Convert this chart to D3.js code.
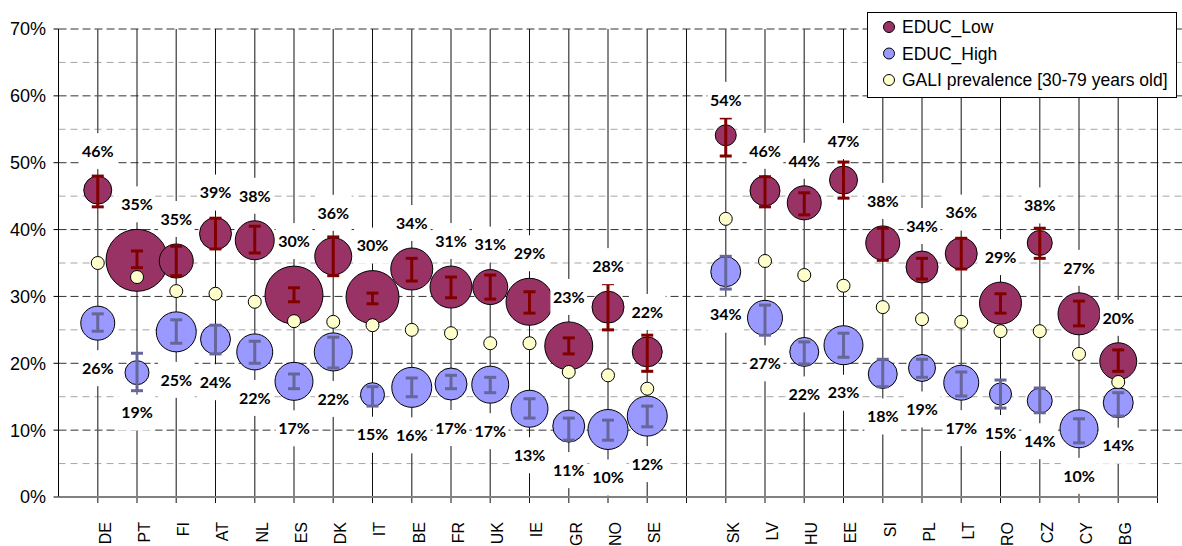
<!DOCTYPE html>
<html><head><meta charset="utf-8">
<script src="https://cdn.jsdelivr.net/npm/d3@7"></script>
<style>body{margin:0;background:#fff}svg{display:block}</style>
</head><body>
<svg id="c" width="1182" height="546"></svg>
<script>
// Category slots (blank slots are gaps in the axis)
const categories = ["DE","PT","FI","AT","NL","ES","DK","IT","BE","FR","UK","IE","GR","NO","SE","","SK","LV","HU","EE","SI","PL","LT","RO","CZ","CY","BG",""];
const countries = categories.filter(c => c !== "");

// EDUC_Low (percent), error bar bounds, bubble size (relative area)
const lowValue = [45.9,35.4,35.3,39.4,38.4,30.2,36.0,29.9,34.1,31.4,31.4,29.2,22.6,28.4,21.7,54.1,45.8,44.0,47.4,38.0,34.4,36.4,29.0,38.0,27.4,20.3];
const lowUpper = [48.0,36.8,37.5,41.7,40.5,31.3,38.9,30.5,35.7,32.9,33.2,30.7,23.8,31.9,24.2,56.7,47.9,45.5,50.1,40.2,35.7,38.7,30.4,40.2,29.3,22.0];
const lowLower = [43.4,34.3,33.1,37.1,36.5,29.2,33.1,28.9,32.3,29.8,29.6,27.5,21.4,25.0,18.8,51.0,43.4,42.2,44.7,35.4,32.6,34.1,27.5,35.7,25.6,18.8];
const lowSize  = [19.6,96.1,28.9,25.6,38.0,84.1,34.2,70.2,44.1,44.1,30.6,55.2,57.6,25.6,22.5,11.0,22.5,28.9,19.6,28.9,25.6,25.6,44.1,15.6,44.1,34.2];

// EDUC_High
const highValue = [26.0,18.6,24.7,23.6,21.7,17.3,21.7,15.3,16.4,16.9,16.8,13.2,10.6,10.1,12.1,33.7,26.8,21.7,22.7,18.4,19.3,17.1,15.4,14.4,10.2,14.1];
const highUpper = [27.4,21.5,26.5,25.7,23.3,18.4,23.9,16.5,17.8,18.2,17.9,14.7,11.8,11.5,13.6,36.0,28.7,23.2,24.5,20.6,20.6,18.7,17.5,16.3,11.7,15.6];
const highLower = [24.8,15.9,23.0,21.4,20.0,16.2,19.3,13.6,15.0,16.2,15.6,11.8,8.5,8.5,10.5,31.1,24.2,19.9,20.9,16.5,17.9,15.1,13.3,12.6,8.1,12.1];
const highSize  = [28.9,14.4,40.0,22.5,32.4,36.1,36.1,14.4,40.0,25.6,34.2,34.2,25.6,40.0,40.0,22.5,30.6,21.0,38.0,21.0,18.2,30.6,12.1,15.6,36.1,22.5];

// GALI prevalence [30-79 years old]
const galiValue = [35.0,32.9,30.8,30.4,29.2,26.3,26.2,25.7,25.0,24.5,23.0,23.0,18.7,18.2,16.2,41.6,35.3,33.2,31.6,28.4,26.6,26.2,24.8,24.8,21.4,17.2];

const yTicks = [0,10,20,30,40,50,60,70];
const yMinorTicks = [5,15,25,35,45,55,65];
const legendLabels = ["EDUC_Low","EDUC_High","GALI prevalence [30-79 years old]"];
const colors = {low:"#993366", high:"#9999FF", gali:"#FFFFCC", lowErr:"#800000", highErr:"#666699"};

const svg = d3.select("#c");
const x = d3.scaleLinear().domain([0, categories.length]).range([58.5, 1157.5]);
const y = d3.scaleLinear().domain([0, 70]).range([497, 29]);
const r = d3.scaleSqrt().domain([0, 100]).range([0, 31.62]);
const slot = c => categories.indexOf(c) + 1;
const fmt = v => Math.round(v) + "%";

const plotRight = 1182;

// minor gridlines
svg.append("g").selectAll("line").data(yMinorTicks).join("line")
  .attr("x1", x(0)).attr("x2", plotRight).attr("y1", d => y(d)).attr("y2", d => y(d))
  .attr("stroke", "#a6a6a6").attr("stroke-width", 1).attr("stroke-dasharray", "7,5");
// major gridlines
svg.append("g").selectAll("line").data(yTicks.filter(d => d > 0)).join("line")
  .attr("x1", x(0)).attr("x2", plotRight).attr("y1", d => y(d)).attr("y2", d => y(d))
  .attr("stroke", "#333").attr("stroke-width", 1).attr("stroke-dasharray", "8,4");

// vertical category lines
svg.append("g").selectAll("line").data(d3.range(1, categories.length + 1)).join("line")
  .attr("x1", d => x(d)).attr("x2", d => x(d)).attr("y1", y(70)).attr("y2", y(0) + 6)
  .attr("stroke", (d, i) => i % 2 ? "#111" : "#555").attr("stroke-width", (d, i) => i % 2 ? 1 : 1.4);

// y axis
svg.append("line").attr("x1", x(0)).attr("x2", x(0)).attr("y1", y(70)).attr("y2", y(0))
  .attr("stroke", "#000").attr("stroke-width", 1);
svg.append("g").selectAll("line").data(yTicks).join("line")
  .attr("x1", x(0) - 5).attr("x2", x(0)).attr("y1", d => y(d)).attr("y2", d => y(d))
  .attr("stroke", "#000");
svg.append("g").selectAll("text").data(yTicks).join("text")
  .attr("x", 46).attr("y", d => y(d)).attr("dy", "0.36em")
  .attr("text-anchor", "end").attr("font-family", "Liberation Sans, Arial, sans-serif")
  .attr("font-size", 18).attr("fill", "#000").text(d => d + "%");

// x axis
svg.append("line").attr("x1", x(0)).attr("x2", x(categories.length)).attr("y1", y(0)).attr("y2", y(0))
  .attr("stroke", "#808080").attr("stroke-width", 2);
svg.append("g").selectAll("text").data(countries).join("text")
  .attr("transform", d => `translate(${x(slot(d)) + 7},522) rotate(-90)`)
  .attr("dy", "0.36em").attr("text-anchor", "end")
  .attr("font-family", "Liberation Sans, Arial, sans-serif").attr("font-size", 16)
  .attr("fill", "#000").text(d => d);

// error bars helper
function errBars(g, up, lo, color) {
  const eb = g.append("g").attr("stroke", color).attr("stroke-width", 3);
  countries.forEach((c, i) => {
    const cx = x(slot(c));
    eb.append("line").attr("x1", cx).attr("x2", cx).attr("y1", y(up[i])).attr("y2", y(lo[i]));
    eb.append("line").attr("x1", cx - 6).attr("x2", cx + 6).attr("y1", y(up[i])).attr("y2", y(up[i]));
    eb.append("line").attr("x1", cx - 6).attr("x2", cx + 6).attr("y1", y(lo[i])).attr("y2", y(lo[i]));
  });
}

// EDUC_Low bubbles
const gLow = svg.append("g");
gLow.selectAll("circle").data(countries).join("circle")
  .attr("cx", d => x(slot(d))).attr("cy", (d, i) => y(lowValue[i])).attr("r", (d, i) => r(lowSize[i]))
  .attr("fill", colors.low).attr("stroke", "#000").attr("stroke-width", 1);
errBars(gLow, lowUpper, lowLower, colors.lowErr);

// EDUC_High bubbles
const gHigh = svg.append("g");
gHigh.selectAll("circle").data(countries).join("circle")
  .attr("cx", d => x(slot(d))).attr("cy", (d, i) => y(highValue[i])).attr("r", (d, i) => r(highSize[i]))
  .attr("fill", colors.high).attr("stroke", "#000").attr("stroke-width", 1);
errBars(gHigh, highUpper, highLower, colors.highErr);

// GALI points
svg.append("g").selectAll("circle").data(countries).join("circle")
  .attr("cx", d => x(slot(d))).attr("cy", (d, i) => y(galiValue[i])).attr("r", 6.5)
  .attr("fill", colors.gali).attr("stroke", "#000").attr("stroke-width", 1);

// data labels with white boxes
const gLab = svg.append("g");
function label(cx, cy, txt) {
  const g = gLab.append("g");
  const t = g.append("text").attr("x", cx).attr("y", cy).attr("dy", "0.36em")
    .attr("text-anchor", "middle").attr("font-family", "Lato, sans-serif")
    .attr("font-weight", "bold").attr("font-size", 16).attr("fill", "#000").text(txt);
  const w = t.node().getComputedTextLength() + 5;
  g.insert("rect", "text").attr("x", cx - w / 2).attr("y", cy - 18).attr("width", w).attr("height", 36)
    .attr("fill", "#fff");
}
countries.forEach((c, i) => {
  label(x(slot(c)), y(lowValue[i]) - r(lowSize[i]) - 25, fmt(lowValue[i]));
});
countries.forEach((c, i) => {
  label(x(slot(c)), y(highValue[i]) + r(highSize[i]) + 28, fmt(highValue[i]));
});

// legend
const lg = svg.append("g");
lg.append("rect").attr("x", 867.5).attr("y", 12.5).attr("width", 309).attr("height", 85)
  .attr("fill", "#fff").attr("stroke", "#000").attr("stroke-width", 1);
const legFills = [colors.low, colors.high, colors.gali];
legendLabels.forEach((t, i) => {
  const ly = 27 + i * 26.5;
  lg.append("circle").attr("cx", 889).attr("cy", ly).attr("r", 5.5)
    .attr("fill", legFills[i]).attr("stroke", "#000").attr("stroke-width", 1);
  lg.append("text").attr("x", 902).attr("y", ly).attr("dy", "0.36em")
    .attr("font-family", "Liberation Sans, Arial, sans-serif").attr("font-size", 17.5)
    .attr("fill", "#000").text(t);
});
</script>
</body></html>
